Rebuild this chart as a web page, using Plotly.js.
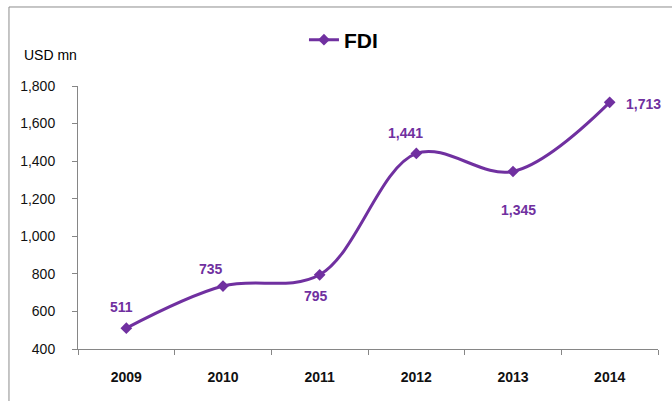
<!DOCTYPE html>
<html><head><meta charset="utf-8">
<script src="https://cdn.plot.ly/plotly-3.0.1.min.js"></script>
<style>html,body{margin:0;padding:0;background:#fff}#c{width:672px;height:401px}</style>
</head><body><div id="c"></div>
<script>
const years = ['2009','2010','2011','2012','2013','2014'];
const fdi = [511, 735, 795, 1441, 1345, 1713];
const labels = ['511','735','795','1,441','1,345','1,713'];
const labelDx = [-5, -12, -4, -11, 5, 34];
const labelDy = [21, 17, -21, 20, -39, -2];
const yTicks = [400, 600, 800, 1000, 1200, 1400, 1600, 1800];
const yTickText = ['400','600','800','1,000','1,200','1,400','1,600','1,800'];
const purple = '#7030A0';
const axisGray = '#868686';
const xIdx = years.map((_, i) => i);

const trace = {
  x: xIdx, y: fdi, type: 'scatter', mode: 'lines+markers', name: 'FDI',
  line: {color: purple, width: 3, shape: 'spline', smoothing: 1},
  marker: {symbol: 'diamond', size: 9, color: purple}
};

const annotations = xIdx.map((xi, i) => ({
  x: xi, y: fdi[i], xref: 'x', yref: 'y', text: labels[i], showarrow: false,
  xshift: labelDx[i], yshift: labelDy[i],
  font: {family: 'Liberation Sans, Arial, sans-serif', size: 14, color: purple, weight: 'bold'}
}));
annotations.push({
  xref: 'paper', yref: 'paper', x: -0.0466, y: 1.118, xanchor: 'center', yanchor: 'middle',
  text: 'USD mn', showarrow: false,
  font: {family: 'Liberation Sans, Arial, sans-serif', size: 14, color: '#000'}
});

const layout = {
  width: 672, height: 401,
  margin: {l: 78, r: 14, t: 86, b: 52},
  paper_bgcolor: '#fff', plot_bgcolor: '#fff',
  showlegend: true,
  legend: {orientation: 'h', x: 0.4577, xanchor: 'center', y: 1.175, yanchor: 'middle',
    font: {family: 'Liberation Sans, Arial, sans-serif', size: 21, color: '#000', weight: 'bold'},
    bgcolor: 'rgba(0,0,0,0)'},
  xaxis: {
    range: [-0.5, years.length - 0.5], tickvals: xIdx, ticktext: years,
    showgrid: false, zeroline: false,
    showline: true, linecolor: axisGray, linewidth: 1,
    ticks: '', 
    minor: {tick0: -0.5, dtick: 1, ticks: 'outside', ticklen: 5, tickcolor: axisGray, showgrid: false},
    tickfont: {family: 'Liberation Sans, Arial, sans-serif', size: 14, color: '#111', weight: 'bold'},
    ticklabelstandoff: 15, fixedrange: true
  },
  yaxis: {
    range: [400, 1800], tickvals: yTicks, ticktext: yTickText,
    showgrid: false, zeroline: false,
    showline: true, linecolor: axisGray, linewidth: 1,
    ticks: 'outside', ticklen: 5, tickcolor: axisGray,
    tickfont: {family: 'Liberation Sans, Arial, sans-serif', size: 14, color: '#111'},
    ticklabelstandoff: 14, fixedrange: true
  },
  annotations: annotations,
  shapes: [{type: 'rect', xref: 'paper', yref: 'paper', x0: -0.119, x1: 1.2, y0: -0.4, y1: 1.3004,
    line: {color: '#8c8c8c', width: 1}, fillcolor: 'rgba(0,0,0,0)', layer: 'below'}]
};
Plotly.newPlot('c', [trace], layout, {displayModeBar: false, staticPlot: true});
</script></body></html>
